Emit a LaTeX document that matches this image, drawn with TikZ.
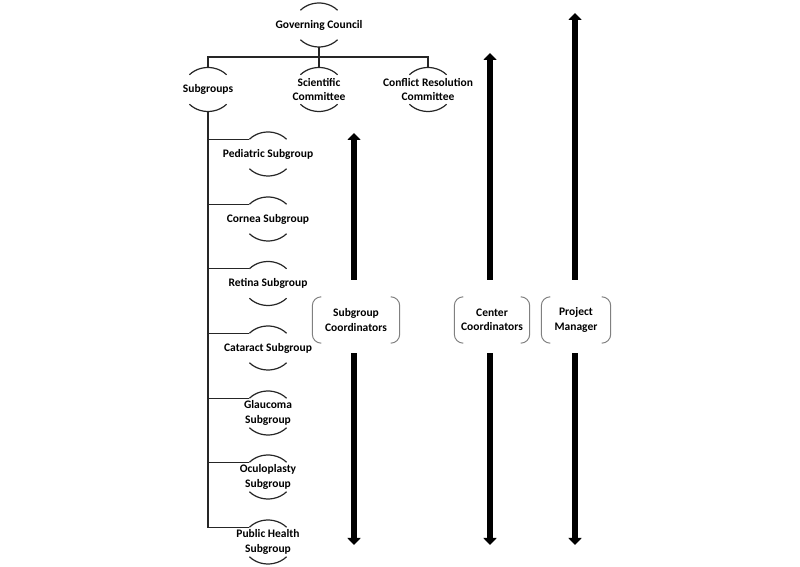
\documentclass[tikz,border=0pt]{standalone}
\usepackage{fontspec}
\setmainfont{Carlito}
\usetikzlibrary{arrows.meta,calc}

\begin{document}
\begin{tikzpicture}[x=1pt,y=1pt,
    every node/.style={font=\bfseries\fontsize{11.5}{14.5}\selectfont, align=center, text=black, inner sep=1pt},
    link/.style={draw=black!85, line width=1.2pt},
    arcline/.style={draw=black!85, line width=1.2pt},
    bracket/.style={draw=black!50, line width=1pt, rounded corners=9pt},
    bigarrow/.style={line width=6.5pt, -{Triangle[width=13pt,length=7pt]}},
    box/.style={minimum height=46pt}]
    \useasboundingbox (0,0) rectangle (800,567);

    % top of the tree
    \node (council) at (319,542) {Governing Council};
    \node (subgroups) at (208,477.5) {Subgroups};
    \node (scientific) at (319,477.5) {Scientific\\Committee};
    \node (conflict) at (428,477.5) {Conflict Resolution\\Committee};

    % subgroups
    \node (pediatric) at (268,413) {Pediatric Subgroup};
    \node (cornea) at (268,348) {Cornea Subgroup};
    \node (retina) at (268,283.5) {Retina Subgroup};
    \node (cataract) at (268,219) {Cataract Subgroup};
    \node (glaucoma) at (268,154) {Glaucoma\\Subgroup};
    \node (oculoplasty) at (268,90) {Oculoplasty\\Subgroup};
    \node (publichealth) at (268,25) {Public Health\\Subgroup};

    % coordinators
    \node[box, minimum width=87pt] (subcoord) at (356,247) {Subgroup\\Coordinators};
    \node[box, minimum width=75pt] (centercoord) at (492,247) {Center\\Coordinators};
    \node[box, minimum width=69pt] (projmgr) at (576,247) {Project\\Manager};

    \coordinate (subtip) at (354,434);
    \coordinate (centertip) at (490,514);
    \coordinate (projtip) at (575,554);
    \coordinate (subend) at (354,22);
    \coordinate (centerend) at (490,22);
    \coordinate (projend) at (575,22);

    % arcs above and below the labels
    \foreach \n in {council,subgroups,scientific,conflict,pediatric,cornea,retina,cataract,glaucoma,oculoplasty,publichealth} {
        \draw[arcline] ($(\n.center)+(138:25 and 22)$) arc[start angle=138, end angle=42, x radius=25, y radius=22];
        \draw[arcline] ($(\n.center)+(-138:25 and 22)$) arc[start angle=-138, end angle=-42, x radius=25, y radius=22];
    }

    \coordinate (bar) at (319,510);
    \draw[link] ($(council.center)+(0,-22)$) -- (bar);
    \draw[link] (bar) -| ($(subgroups.center)+(0,22)$);
    \draw[link] (bar) -| ($(conflict.center)+(0,22)$);
    \draw[link] (bar) -- ($(scientific.center)+(0,22)$);

    \foreach \n in {pediatric,cornea,retina,cataract,glaucoma,oculoplasty,publichealth}
        \draw[link] ($(subgroups.center)+(0,-22)$) |- ($(\n.center)+(138:25 and 22)$);

    \foreach \b in {subcoord,centercoord,projmgr} {
        \draw[bracket] ($(\b.north west)+(9,0)$) -- (\b.north west) -- (\b.south west) -- ($(\b.south west)+(9,0)$);
        \draw[bracket] ($(\b.north east)+(-9,0)$) -- (\b.north east) -- (\b.south east) -- ($(\b.south east)+(-9,0)$);
    }

    \foreach \b/\t/\e in {subcoord/subtip/subend, centercoord/centertip/centerend, projmgr/projtip/projend} {
        \draw[bigarrow] ($(\b.north -| \t)+(0,17)$) -- (\t);
        \draw[bigarrow] ($(\b.south -| \e)+(0,-10)$) -- (\e);
    }
\end{tikzpicture}
\end{document}
